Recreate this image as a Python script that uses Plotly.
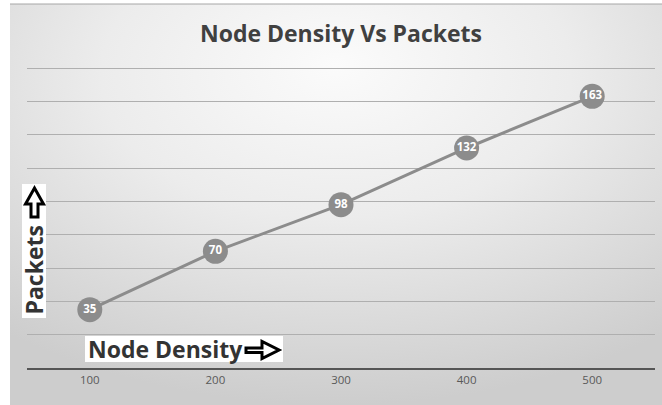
import base64
import plotly.graph_objects as go

# Chart data
node_density = ["100", "200", "300", "400", "500"]
packets = [35, 70, 98, 132, 163]
y_top_grid = 180
y_step = 20

W, H = 662, 405
M_L, M_R, M_T, M_B = 27, 7, 60, 37
PW, PH = W - M_L - M_R, H - M_T - M_B
# the value axis extends a little above the highest gridline (which sits at row 68)
GRID_SPAN_PX = 300
y_max = y_top_grid * PH / GRID_SPAN_PX
FONT = "Open Sans"


def px(x):
    """Pixel column -> paper x."""
    return (x - M_L) / PW


def py(y):
    """Pixel row -> paper y."""
    return (H - M_B - y) / PH


def path_px(points):
    """Closed SVG path in paper coordinates from pixel points."""
    parts = [f"{'M' if i == 0 else 'L'} {px(x):.5f} {py(y):.5f}" for i, (x, y) in enumerate(points)]
    return " ".join(parts) + " Z"


# Soft grey radial backdrop for the chart area
bg_svg = """<svg xmlns='http://www.w3.org/2000/svg' width='652' height='401' viewBox='0 0 652 401' preserveAspectRatio='none'>
<defs>
<radialGradient id='g' cx='0.5' cy='0.2' r='0.8' fx='0.5' fy='0.15'>
<stop offset='0' stop-color='#fbfbfb'/>
<stop offset='0.45' stop-color='#ececec'/>
<stop offset='1' stop-color='#cdcdcd'/>
</radialGradient>
</defs>
<rect width='652' height='401' fill='url(#g)'/>
</svg>"""
bg_uri = "data:image/svg+xml;base64," + base64.b64encode(bg_svg.encode()).decode()

fig = go.Figure()
fig.add_trace(go.Scatter(
    x=node_density,
    y=packets,
    mode="lines+markers+text",
    line=dict(color="#8c8c8c", width=3),
    marker=dict(size=25, color="#8c8c8c"),
    text=[str(v) for v in packets],
    textposition="middle center",
    textfont=dict(family=FONT, size=11.5, color="white", weight="bold"),
    hoverinfo="skip",
    showlegend=False,
    cliponaxis=False,
))

# Outlined block arrows next to the axis captions
right_arrow = [(246, 348), (262, 348), (262, 341.5), (279, 350), (262, 358.5), (262, 352.5), (246, 352.5)]
up_arrow = [(31, 217), (31, 204), (25.5, 204), (34.5, 188), (43.5, 204), (38, 204), (38, 217)]

shapes = [
    # thin frame line along the top of the chart area
    dict(type="line", xref="paper", yref="paper",
         x0=px(10), x1=px(W), y0=py(4), y1=py(4),
         line=dict(color="#a6a6a6", width=1)),
    # white caption boxes
    dict(type="rect", xref="paper", yref="paper",
         x0=px(85), x1=px(283), y0=py(336), y1=py(362),
         fillcolor="white", line=dict(width=0), layer="above"),
    dict(type="rect", xref="paper", yref="paper",
         x0=px(22), x1=px(46), y0=py(184), y1=py(318),
         fillcolor="white", line=dict(width=0), layer="above"),
    dict(type="path", xref="paper", yref="paper", path=path_px(right_arrow),
         fillcolor="white", line=dict(color="black", width=3), layer="above"),
    dict(type="path", xref="paper", yref="paper", path=path_px(up_arrow),
         fillcolor="white", line=dict(color="black", width=3), layer="above"),
]

fig.update_layout(
    width=W,
    height=H,
    margin=dict(l=M_L, r=M_R, t=M_T, b=M_B),
    paper_bgcolor="white",
    plot_bgcolor="rgba(0,0,0,0)",
    title=dict(
        text="<b>Node Density Vs Packets</b>",
        x=341 / W, xanchor="center",
        y=1 - 34 / H, yanchor="middle",
        font=dict(family=FONT, size=23, color="#404040"),
    ),
    xaxis=dict(
        type="category",
        range=[-0.5, len(node_density) - 0.5],
        showgrid=False,
        showline=True,
        linecolor="#555555",
        linewidth=2,
        ticks="",
        tickfont=dict(family=FONT, size=11.5, color="#595959"),
        fixedrange=True,
    ),
    yaxis=dict(
        range=[0, y_max],
        tick0=0,
        dtick=y_step,
        showgrid=True,
        gridcolor="#afafaf",
        gridwidth=1,
        zeroline=False,
        showticklabels=False,
        showline=False,
        fixedrange=True,
    ),
    images=[dict(
        source=bg_uri,
        xref="paper", yref="paper",
        x=px(10), y=py(4),
        sizex=(W - 10) / PW, sizey=(H - 4) / PH,
        xanchor="left", yanchor="top",
        sizing="stretch",
        layer="below",
    )],
    shapes=shapes,
    annotations=[
        dict(
            text="<b>Node Density</b>",
            xref="paper", yref="paper",
            x=px(86), xanchor="left",
            y=py(349), yanchor="middle",
            showarrow=False,
            font=dict(family=FONT, size=23, color="#333333"),
        ),
        dict(
            text="<b>Packets</b>",
            xref="paper", yref="paper",
            x=px(33.5), xanchor="center",
            y=py(270), yanchor="middle",
            textangle=-90,
            showarrow=False,
            font=dict(family=FONT, size=23, color="#333333"),
        ),
    ],
)

fig.write_html("out.html")
